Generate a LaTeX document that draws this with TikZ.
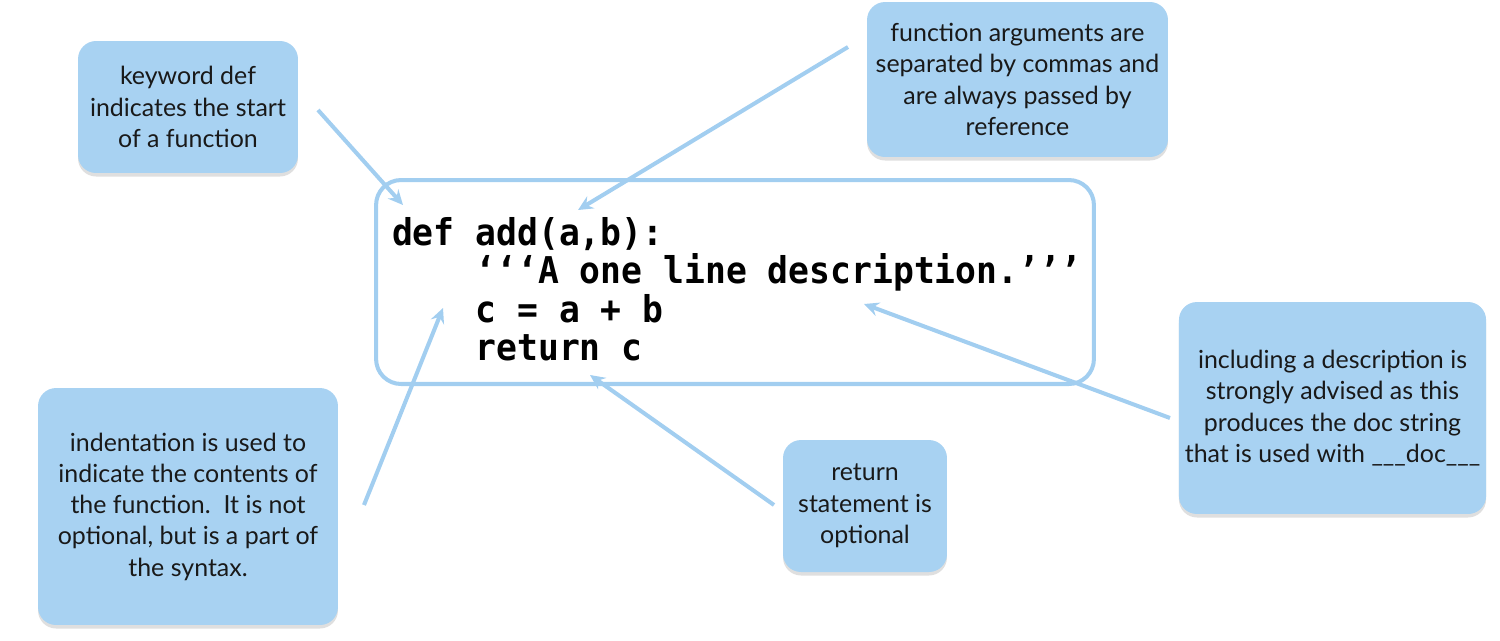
\documentclass[tikz,border=0pt]{standalone}
\usepackage{fontspec}
\setmainfont{Lato}
\newfontfamily\codigoFont[FakeStretch=0.94]{DejaVu Sans Mono}
\usetikzlibrary{shadows, arrows.meta}
\definecolor{azulNota}{RGB}{168,210,242}
\definecolor{azulLinea}{RGB}{162,206,240}
\begin{document}
\begin{tikzpicture}[x=0.02cm, y=-0.02cm, >={Stealth[length=8.5pt, width=8pt, inset=3pt]}, line width=2.3pt]
        % Estilos
        \tikzstyle{cajaNota} = [rectangle, rounded corners=0.36cm, fill=azulNota, align=center, text=black!90,
                                font=\fontsize{14.2}{17.8}\selectfont,
                                drop shadow={shadow xshift=0pt, shadow yshift=-2pt, opacity=0.25}]
        \tikzstyle{cajaCodigo} = [draw=azulLinea, rectangle, rounded corners=0.5cm,
                                  minimum width=14.36cm, minimum height=4.08cm]
        \tikzstyle{textoCodigo} = [align=left, inner sep=0pt,
                                   font=\codigoFont\bfseries\fontsize{21}{21.9}\selectfont]
        \tikzstyle{flecha} = [->, draw=azulLinea]

        \useasboundingbox (0,0) rectangle (1500,640);

        % Codigo
        \node[cajaCodigo] (codigo) at (735,282) {};
        \node[textoCodigo, anchor=west] (lineasCodigo) at (390,289) {def add(a,b):\\
            \phantom{def }‘‘‘A one line description.’’’\\
            \phantom{def }c = a + b\\
            \phantom{def }return c};

        % Notas
        \node[cajaNota, minimum width=4.4cm, minimum height=2.64cm] (notaDef) at (188,107)
            {keyword def\\ indicates the start\\ of a function};
        \node[cajaNota, minimum width=6.02cm, minimum height=3.1cm] (notaArgs) at (1017.5,79.5)
            {function arguments are\\ separated by commas and\\ are always passed by\\ reference};
        \node[cajaNota, minimum width=6.02cm, minimum height=4.24cm] (notaDoc) at (1332.5,408)
            {including a description is\\ strongly advised as this\\ produces the doc string\\ that is used with \_\_\_doc\_\_\_};
        \node[cajaNota, minimum width=6.0cm, minimum height=4.74cm] (notaIndent) at (188,506.5)
            {indentation is used to\\ indicate the contents of\\ the function.\ \ It is not\\ optional, but is a part of\\ the syntax.};
        \node[cajaNota, minimum width=3.28cm, minimum height=2.64cm] (notaReturn) at (865,506)
            {return\\ statement is\\ optional};

        % Extremos de las flechas
        \coordinate (inicioDef) at (318,110);
        \coordinate (finDef) at (403,205);
        \coordinate (inicioArgs) at (848,47);
        \coordinate (finArgs) at (578,210);
        \coordinate (inicioDoc) at (1170,418);
        \coordinate (finDoc) at (864,304);
        \coordinate (inicioIndent) at (364,505);
        \coordinate (finIndent) at (443,308);
        \coordinate (inicioReturn) at (774,505);
        \coordinate (finReturn) at (590,375);

        % Flechas
        \draw[flecha] (inicioDef) -- (finDef);
        \draw[flecha] (inicioArgs) -- (finArgs);
        \draw[flecha] (inicioDoc) -- (finDoc);
        \draw[flecha] (inicioIndent) -- (finIndent);
        \draw[flecha] (inicioReturn) -- (finReturn);
\end{tikzpicture}
\end{document}
